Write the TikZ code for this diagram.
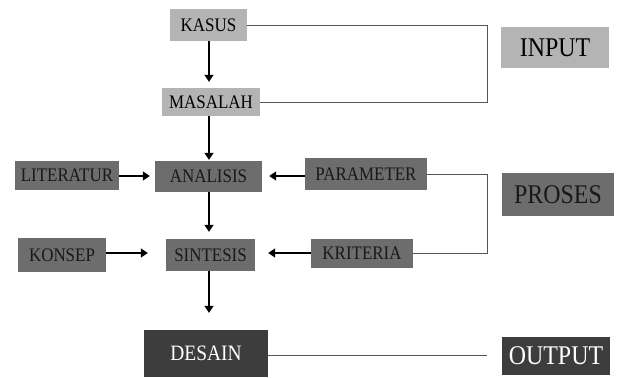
\documentclass[tikz,border=0pt]{standalone}
\usepackage{fontspec}
\usepackage{graphicx}
\setmainfont{Liberation Serif}
\usetikzlibrary{arrows.meta}
\definecolor{lightbox}{HTML}{B4B4B4}
\definecolor{midbox}{HTML}{6D6D6D}
\definecolor{darkbox}{HTML}{3D3D3D}
\definecolor{linkgray}{HTML}{555555}
\newcommand{\vs}[1]{\scalebox{1}[1.13]{#1}}
\tikzset{
  box/.style={rectangle, inner sep=0pt, font=\fontsize{17}{20}\selectfont},
  lightb/.style={box, fill=lightbox, text=black},
  midb/.style={box, fill=midbox, text=black!90},
  darkb/.style={box, fill=darkbox, text=white},
  tag/.style={font=\fontsize{24}{28}\selectfont},
  arr/.style={draw=black, line width=1.3bp, -{Triangle[length=7bp,width=9bp]}},
  link/.style={draw=linkgray, line width=1bp}
}
\begin{document}
\begin{tikzpicture}[x=1bp,y=-1bp]
\useasboundingbox (0,0) rectangle (619,377);
% input level
\node[lightb, minimum width=77bp, minimum height=32bp] (kasus) at (208.5,25) {\vs{KASUS}};
\node[lightb, minimum width=98bp, minimum height=28bp] (masalah) at (211,102) {\vs{MASALAH}};
% process level
\node[midb, minimum width=104bp, minimum height=29bp] (literatur) at (67,175.5) {\vs{LITERATUR}};
\node[midb, minimum width=107bp, minimum height=31bp] (analisis) at (208.5,176.5) {\vs{ANALISIS}};
\node[midb, minimum width=122bp, minimum height=32bp] (parameter) at (366,174) {\vs{PARAMETER}};
\node[midb, minimum width=88bp, minimum height=34bp] (konsep) at (62,255) {\vs{KONSEP}};
\node[midb, minimum width=89bp, minimum height=32bp] (sintesis) at (210.5,255) {\vs{SINTESIS}};
\node[midb, minimum width=102bp, minimum height=29bp] (kriteria) at (362,253.5) {\vs{KRITERIA}};
% output level
\node[darkb, minimum width=124bp, minimum height=47bp, font=\fontsize{19.5}{23}\selectfont] (desain) at (206,353.5) {\vs{DESAIN}};
% tags
\node[lightb, tag, minimum width=108bp, minimum height=41bp] (input) at (555,47.5) {\vs{INPUT}};
\node[midb, tag, minimum width=112bp, minimum height=43bp] (proses) at (558,194.5) {\vs{PROSES}};
\node[darkb, tag, minimum width=108bp, minimum height=38bp] (output) at (556,356) {\vs{OUTPUT}};
% arrows
\coordinate (vx) at (209,0);
\draw[arr, shorten >=6bp] (kasus.south -| vx) -- (masalah.north -| vx);
\draw[arr, shorten >=1bp] (masalah.south -| vx) -- (analisis.north -| vx);
\draw[arr, shorten >=7bp] (analisis.south -| vx) -- (sintesis.north -| vx);
\draw[arr, shorten >=17bp] (sintesis.south -| vx) -- (desain.north -| vx);
\coordinate (ya) at (0,176);
\coordinate (ys) at (0,253);
\draw[arr, shorten >=5bp] (literatur.east |- ya) -- (analisis.west |- ya);
\draw[arr, shorten >=7bp] (parameter.west |- ya) -- (analisis.east |- ya);
\draw[arr, shorten >=18bp] (konsep.east |- ys) -- (sintesis.west |- ys);
\draw[arr, shorten >=13bp] (kriteria.west |- ys) -- (sintesis.east |- ys);
% grey links
\coordinate (rx) at (487,0);
\draw[link] (kasus.east) -- (kasus.east -| rx) -- (masalah.east -| rx) -- (masalah.east);
\draw[link] (parameter.east) -- (parameter.east -| rx) -- (kriteria.east -| rx) -- (kriteria.east);
\coordinate (dend) at (487,355);
\draw[link] (desain.east |- dend) -- (dend);
\end{tikzpicture}
\end{document}
